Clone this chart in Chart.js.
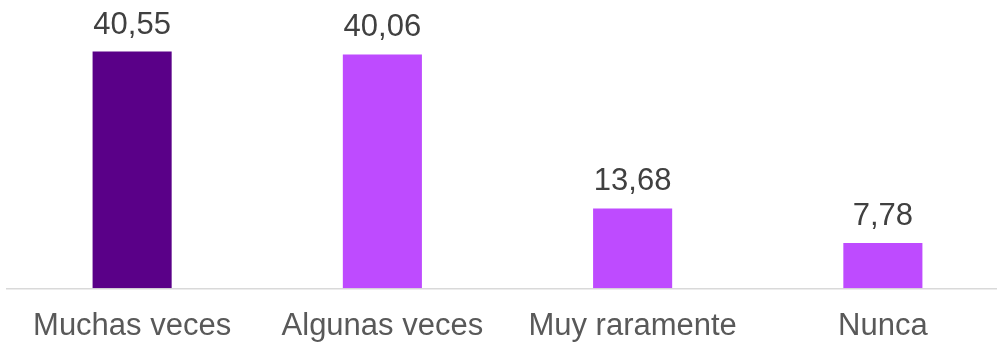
<!DOCTYPE html>
<html>
<head>
<meta charset="utf-8">
<script src="https://cdn.jsdelivr.net/npm/chart.js@4.4.1/dist/chart.umd.min.js"></script>
<style>
  html, body { margin: 0; padding: 0; background: #fff; overflow: hidden; }
  #wrap { width: 997px; height: 345px; overflow: hidden; }
</style>
</head>
<body>
<div id="wrap"><canvas id="chart" width="1010" height="345"></canvas></div>
<script>
const categorias = ["Muchas veces", "Algunas veces", "Muy raramente", "Nunca"];
const porcentajes = [40.55, 40.06, 13.68, 7.78];

const barColors = ["#5A0088", "#BE4BFF", "#BE4BFF", "#BE4BFF"];
const FONT = "'Liberation Sans', Arial, sans-serif";

// value labels above every bar, spanish decimal comma
const valueLabels = {
    id: "valueLabels",
    afterDatasetsDraw(chart) {
        const ctx = chart.ctx;
        const meta = chart.getDatasetMeta(0);
        ctx.save();
        ctx.font = "31px " + FONT;
        ctx.fillStyle = "#404040";
        ctx.textAlign = "center";
        ctx.textBaseline = "alphabetic";
        meta.data.forEach((bar, i) => {
            const txt = porcentajes[i].toFixed(2).replace(".", ",");
            ctx.fillText(txt, bar.x, bar.y - 18);
        });
        ctx.restore();
    }
};

new Chart(document.getElementById("chart"), {
    type: "bar",
    data: {
        labels: categorias,
        datasets: [{
            data: porcentajes,
            backgroundColor: barColors,
            borderWidth: 0,
            categoryPercentage: 1,
            barPercentage: 0.316
        }]
    },
    options: {
        responsive: false,
        animation: false,
        layout: { padding: { top: 25.6, left: 7, right: 2, bottom: -20.5 } },
        plugins: {
            legend: { display: false },
            tooltip: { enabled: false }
        },
        scales: {
            x: {
                grid: { display: false, drawTicks: false },
                border: { display: true, color: "#d9d9d9", width: 1.5 },
                ticks: {
                    color: "#595959",
                    font: { size: 31, family: FONT },
                    padding: 20,
                    maxRotation: 0,
                    autoSkip: false
                }
            },
            y: {
                display: false,
                min: 0,
                max: 45
            }
        }
    },
    plugins: [valueLabels]
});
</script>
</body>
</html>
